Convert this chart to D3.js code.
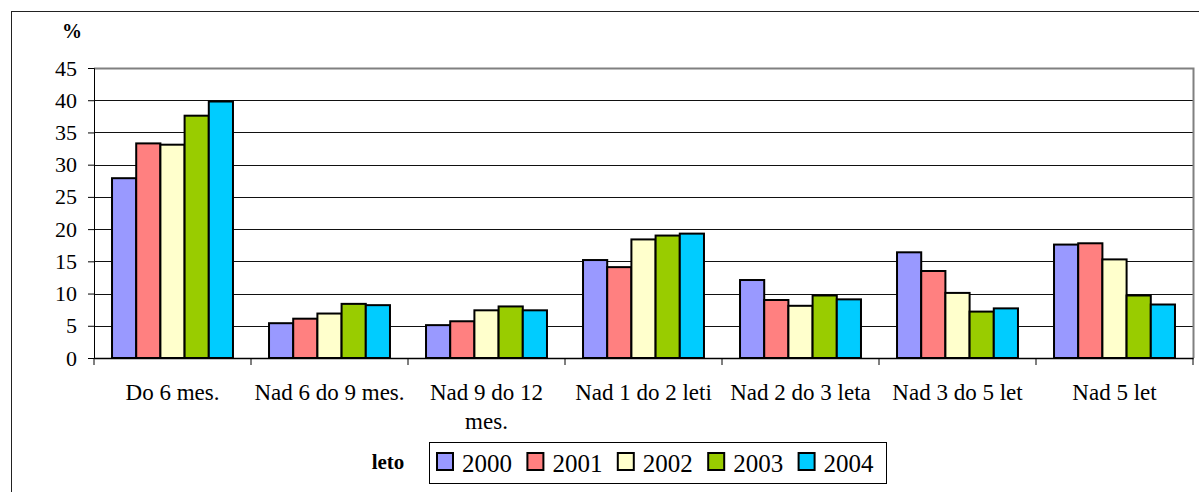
<!DOCTYPE html>
<html>
<head>
<meta charset="utf-8">
<script src="https://cdn.jsdelivr.net/npm/d3@7"></script>
<style>
  body { margin: 0; background: #fff; }
  svg { display: block; }
  svg text { font-family: "Liberation Serif", "Times New Roman", serif; fill: #000; }
</style>
</head>
<body>
<svg id="chart" width="1199" height="492"></svg>
<script>
var categories = ["Do 6 mes.", "Nad 6 do 9 mes.", "Nad 9 do 12 mes.", "Nad 1 do 2 leti",
                  "Nad 2 do 3 leta", "Nad 3 do 5 let", "Nad 5 let"];
var years = ["2000", "2001", "2002", "2003", "2004"];
var v2000 = [27.9, 5.4, 5.1, 15.2, 12.1, 16.4, 17.6];
var v2001 = [33.3, 6.1, 5.7, 14.1, 9.0, 13.5, 17.8];
var v2002 = [33.1, 6.9, 7.4, 18.4, 8.1, 10.1, 15.3];
var v2003 = [37.6, 8.4, 8.0, 19.0, 9.7, 7.2, 9.7];
var v2004 = [39.8, 8.2, 7.4, 19.3, 9.1, 7.7, 8.3];
var yTicks = [0, 5, 10, 15, 20, 25, 30, 35, 40, 45];
var colors = ["#9999FF", "#FF8080", "#FFFFCC", "#99CC00", "#00CCFF"];

var series = [v2000, v2001, v2002, v2003, v2004];

var svg = d3.select("#chart");

// outer chart border (runs off the right and bottom edge)
svg.append("rect")
    .attr("x", 11.5).attr("y", 11.5)
    .attr("width", 1220).attr("height", 500)
    .attr("fill", "none").attr("stroke", "#222").attr("stroke-width", 1);

var mLeft = 94, mRight = 1193, mTop = 68, mBottom = 358;

var x0 = d3.scaleBand().domain(categories).range([mLeft, mRight]).padding(0);
var x1 = d3.scaleBand().domain(years).range([0, x0.bandwidth()])
    .paddingInner(0).paddingOuter(0.745);
var y = d3.scaleLinear().domain([0, 45]).range([mBottom, mTop]);
var color = d3.scaleOrdinal().domain(years).range(colors);

// gridlines
svg.append("g")
    .selectAll("line")
    .data(yTicks.filter(function (d) { return d > 0 && d < 45; }))
    .enter().append("line")
    .attr("x1", mLeft).attr("x2", mRight)
    .attr("y1", function (d) { return Math.round(y(d)) + 0.5; })
    .attr("y2", function (d) { return Math.round(y(d)) + 0.5; })
    .attr("stroke", "#111").attr("stroke-width", 1);

// plot area border (gray)
svg.append("path")
    .attr("d", "M" + mLeft + "," + (Math.round(y(45)) + 0.5) + "H" + (mRight + 0.5) + "V" + mBottom)
    .attr("fill", "none").attr("stroke", "#808080").attr("stroke-width", 2);

// bars
var groups = svg.append("g")
    .selectAll("g")
    .data(years)
    .enter().append("g");

groups.selectAll("rect")
    .data(function (yr, i) {
        return series[i].map(function (v, j) { return { year: yr, cat: categories[j], value: v }; });
    })
    .enter().append("rect")
    .attr("x", function (d) { return x0(d.cat) + x1(d.year); })
    .attr("y", function (d) { return y(d.value); })
    .attr("width", x1.bandwidth())
    .attr("height", function (d) { return mBottom - y(d.value); })
    .attr("fill", function (d) { return color(d.year); })
    .attr("stroke", "#000").attr("stroke-width", 2);

// y axis
var yAxis = d3.axisLeft(y).tickValues(yTicks).tickSize(6).tickPadding(11);
var gy = svg.append("g").attr("transform", "translate(" + mLeft + ",0)").call(yAxis);
gy.attr("font-family", null);
gy.select(".domain").attr("stroke", "#000");
gy.selectAll(".tick line").attr("stroke", "#000");
gy.selectAll("text").attr("font-size", 22).attr("fill", "#000");

// x axis
var xAxis = d3.axisBottom(x0).tickSize(0).tickPadding(0);
var gx = svg.append("g").attr("transform", "translate(0," + mBottom + ")").call(xAxis);
gx.select(".domain").attr("stroke", "#000").attr("stroke-width", 1.5);
gx.selectAll(".tick text").remove();
gx.selectAll(".sep")
    .data(categories.concat(["end"]))
    .enter().append("line")
    .attr("class", "sep")
    .attr("x1", function (d, i) { return mLeft + i * x0.bandwidth(); })
    .attr("x2", function (d, i) { return mLeft + i * x0.bandwidth(); })
    .attr("y1", 0).attr("y2", 7)
    .attr("stroke", "#000");

// category labels, wrapped when wider than the slot
var maxW = 153;
var labels = svg.append("g")
    .selectAll("text")
    .data(categories)
    .enter().append("text")
    .attr("x", function (d) { return x0(d) + x0.bandwidth() / 2; })
    .attr("y", 400)
    .attr("text-anchor", "middle")
    .attr("font-size", 23)
    .text(function (d) { return d; });

labels.each(function (d) {
    var t = d3.select(this);
    if (this.getComputedTextLength() <= maxW) return;
    var words = d.split(" ");
    var line = [], lines = [];
    t.text(null);
    var probe = t.append("tspan");
    words.forEach(function (w) {
        line.push(w);
        probe.text(line.join(" "));
        if (probe.node().getComputedTextLength() > maxW && line.length > 1) {
            line.pop();
            lines.push(line.join(" "));
            line = [w];
        }
    });
    lines.push(line.join(" "));
    probe.remove();
    var cx = t.attr("x");
    lines.forEach(function (l, k) {
        t.append("tspan").attr("x", cx).attr("dy", k === 0 ? 0 : 29).text(l);
    });
});

// "%" label
svg.append("text")
    .attr("x", 72).attr("y", 38)
    .attr("text-anchor", "middle")
    .attr("font-weight", "bold").attr("font-size", 20)
    .text("%");

// legend
svg.append("text")
    .attr("x", 388).attr("y", 469)
    .attr("text-anchor", "middle")
    .attr("font-weight", "bold").attr("font-size", 21)
    .text("leto");

svg.append("rect")
    .attr("x", 429.5).attr("y", 442.5)
    .attr("width", 457).attr("height", 41)
    .attr("fill", "#fff").attr("stroke", "#000");

var legend = svg.append("g")
    .selectAll("g")
    .data(years)
    .enter().append("g")
    .attr("transform", function (d, i) { return "translate(" + (437 + i * 90.4) + ",453)"; });

legend.append("rect")
    .attr("width", 16).attr("height", 17)
    .attr("fill", function (d) { return color(d); })
    .attr("stroke", "#000").attr("stroke-width", 2);

legend.append("text")
    .attr("x", 25).attr("y", 18.5)
    .attr("font-size", 25)
    .text(function (d) { return d; });
</script>
</body>
</html>
